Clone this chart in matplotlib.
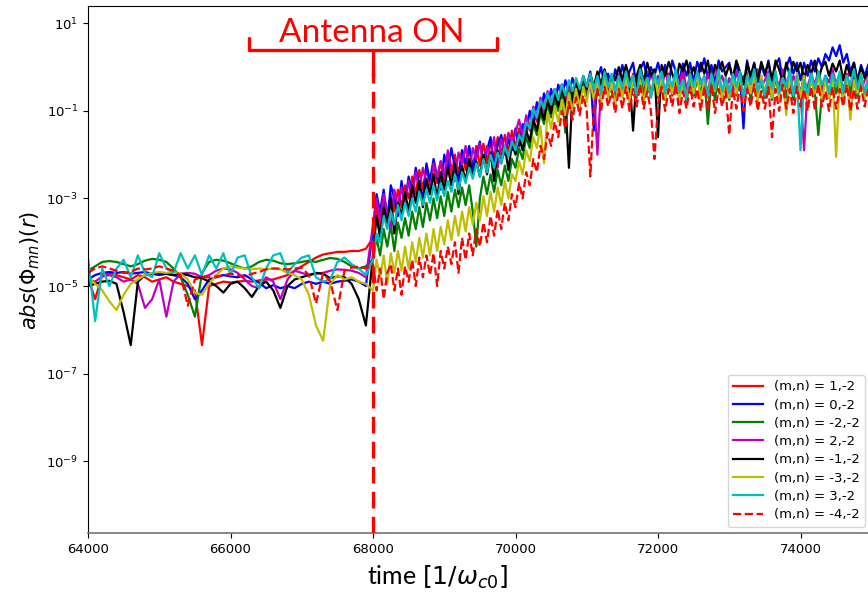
import numpy as np
import matplotlib
matplotlib.use('Agg')
import matplotlib.pyplot as plt
from matplotlib.lines import Line2D
from matplotlib.ticker import FixedLocator, NullLocator

# time grids (before antenna: step 100, after antenna: step 50)
time_pre = np.arange(64000, 68000, 100)
time_post = np.arange(68000, 75000, 50)

labels = ['(m,n) = 1,-2', '(m,n) = 0,-2', '(m,n) = -2,-2', '(m,n) = 2,-2',
          '(m,n) = -1,-2', '(m,n) = -3,-2', '(m,n) = 3,-2', '(m,n) = -4,-2']

# log10 |Phi_mn|
m1_pre = [-4.8, -5.3, -4.75, -4.7, -4.75, -4.8, -4.85, -4.75, -4.8, -4.9,
          -4.85, -4.8, -4.9, -4.95, -5.0, -5.1, -6.35, -5.0, -4.95, -4.9,
          -4.92, -4.9, -4.88, -4.9, -4.87, -4.85, -4.85, -4.8, -4.75, -4.65,
          -4.55, -4.45, -4.35, -4.28, -4.25, -4.22, -4.22, -4.2, -4.2, -4.15]
m1_post = [-3.9, -3.2, -3.7, -3.0, -3.5, -2.9, -3.3, -2.8, -3.2, -2.7,
           -3.0, -2.5, -2.9, -2.35, -2.8, -2.3, -2.7, -2.2, -2.65, -2.15,
           -2.6, -2.05, -2.5, -2.0, -2.45, -1.9, -2.35, -1.85, -2.3, -1.8,
           -2.25, -1.75, -2.2, -1.7, -2.1, -1.6, -2.0, -1.55, -1.95, -1.45,
           -1.85, -1.4, -1.7, -1.15, -1.45, -0.95, -1.25, -0.75, -1.1, -0.6,
           -1.0, -0.5, -0.9, -0.4, -0.8, -0.35, -0.75, -0.3, -0.7, -0.25,
           -0.65, -0.2, -0.7, -0.25, -0.6, -0.15, -0.65, -0.2, -0.7, -0.3,
           -0.6, -0.2, -0.65, -0.15, -0.7, -0.25, -0.6, -0.1, -0.65, -0.25,
           -0.7, -0.2, -0.6, -0.15, -0.65, -0.25, -0.7, -0.2, -0.6, -0.15,
           -0.65, -0.2, -0.7, -0.25, -0.6, -0.1, -0.65, -0.2, -0.75, -0.25,
           -0.6, -0.15, -0.65, -0.2, -0.7, -0.25, -0.6, -0.15, -0.65, -0.2,
           -0.7, -0.25, -0.6, -0.2, -0.65, -0.15, -0.7, -0.25, -0.6, -0.2,
           -0.65, -0.2, -0.7, -0.25, -0.6, -0.15, -0.65, -0.2, -0.7, -0.25,
           -0.6, -0.2, -0.65, -0.15, -0.7, -0.25, -0.6, -0.2, -0.65, -0.2]

m0_pre = [-4.85, -4.75, -4.7, -4.68, -4.7, -4.68, -4.72, -4.7, -4.68, -4.72,
          -4.75, -4.72, -4.75, -4.8, -4.95, -5.3, -5.1, -4.85, -4.8, -4.75,
          -4.78, -4.8, -4.75, -4.85, -4.92, -5.05, -4.98, -5.05, -5.0, -5.05,
          -4.95, -4.9, -4.95, -4.9, -4.95, -4.9, -4.88, -4.85, -4.9, -5.0]
m0_post = [-3.7, -2.9, -3.3, -2.8, -3.5, -2.7, -3.0, -3.4, -2.6, -3.1,
           -2.5, -2.9, -2.3, -2.7, -3.0, -2.2, -2.6, -2.1, -2.5, -2.8,
           -2.0, -2.4, -1.85, -2.3, -2.6, -1.9, -2.2, -1.8, -2.35, -2.0,
           -1.7, -2.2, -1.9, -1.6, -2.3, -1.75, -1.55, -2.0, -1.65, -1.9,
           -1.4, -1.8, -1.3, -1.5, -1.0, -1.3, -0.8, -1.1, -0.6, -0.9,
           -0.5, -0.85, -0.4, -0.7, -0.3, -0.6, -0.25, -0.55, -0.9, -0.2,
           -0.45, -0.1, -1.45, -0.3, 0.0, -0.4, -0.15, -0.5, -0.05, -0.3,
           0.05, -0.35, -0.1, 0.1, -0.45, -0.05, 0.12, -0.3, 0.0, -0.2,
           0.1, -0.25, 0.05, -0.4, 0.15, -0.1, -0.3, 0.08, -0.2, 0.1,
           -0.35, 0.12, -0.1, 0.2, -0.25, 0.05, -0.4, 0.15, -0.1, 0.0,
           0.1, -0.3, 0.05, -0.2, -1.4, 0.15, -0.25, 0.1, -0.35, 0.05,
           -0.2, 0.15, -0.35, 0.05, 0.2, -0.3, 0.0, 0.22, -0.15, 0.1,
           -0.3, 0.1, -0.2, 0.15, -0.1, 0.2, 0.0, 0.3, 0.15, 0.45,
           0.25, 0.5, 0.1, 0.3, -0.1, 0.1, -0.3, 0.05, -0.2, 0.05]

mm2_pre = [-4.65, -4.55, -4.45, -4.43, -4.45, -4.5, -4.55, -4.5, -4.42, -4.38,
           -4.4, -4.45, -4.6, -4.8, -5.2, -5.7, -4.7, -4.45, -4.4, -4.42,
           -4.48, -4.55, -4.6, -4.55, -4.45, -4.4, -4.42, -4.48, -4.5, -4.48,
           -4.45, -4.42, -4.45, -4.4, -4.36, -4.38, -4.45, -4.55, -4.6, -4.55]
mm2_post = [-4.4, -3.9, -4.3, -3.7, -4.1, -3.6, -4.2, -3.55, -3.9, -3.45,
            -3.85, -3.3, -3.7, -3.2, -3.65, -3.1, -3.5, -3.0, -3.45, -2.95,
            -3.4, -2.85, -3.3, -2.8, -3.2, -2.75, -3.15, -2.7, -3.3, -4.1,
            -3.0, -2.5, -2.9, -2.45, -2.85, -2.35, -2.7, -2.25, -2.6, -2.1,
            -2.3, -1.85, -2.1, -1.6, -1.85, -1.3, -1.55, -1.05, -1.3, -0.85,
            -1.15, -0.7, -1.0, -0.6, -1.5, -0.5, -0.8, -0.45, -0.75, -0.35,
            -0.7, -0.3, -0.65, -0.25, -0.75, -0.2, -0.6, -0.3, -0.8, -0.35,
            -0.65, -0.2, -0.7, -0.3, -0.6, -0.15, -0.75, -0.25, -0.65, -0.4,
            -0.6, -0.2, -0.75, -0.3, -0.55, -0.15, -0.7, -0.3, -0.8, -0.25,
            -0.65, -0.25, -0.6, -0.2, -1.3, -0.3, -0.75, -0.2, -0.6, -0.3,
            -0.75, -0.2, -0.6, -0.3, -0.7, -0.15, -0.75, -0.25, -0.6, -0.35,
            -0.7, -0.2, -0.75, -0.25, -0.6, -0.2, -0.7, -0.3, -0.75, -0.25,
            -0.6, -0.2, -0.7, -0.3, -0.55, -1.55, -0.65, -0.2, -0.7, -0.25,
            -0.6, -0.2, -0.75, -0.3, -0.55, -0.2, -0.7, -0.25, -0.6, -0.35]

m2_pre = [-4.85, -4.9, -4.78, -4.75, -4.8, -4.9, -4.85, -4.95, -5.5, -5.3,
          -4.85, -5.7, -4.9, -4.72, -4.7, -4.72, -4.8, -4.75, -4.65, -4.6,
          -4.62, -4.7, -4.85, -5.0, -5.05, -4.8, -4.9, -5.3, -4.85, -4.65,
          -4.7, -4.75, -4.72, -4.7, -4.65, -4.62, -4.63, -4.65, -4.7, -4.8]
m2_post = [-3.6, -3.0, -3.5, -2.9, -3.3, -3.7, -2.8, -3.2, -2.75, -3.1,
           -2.6, -3.0, -2.4, -2.8, -2.3, -2.65, -2.9, -2.2, -2.5, -2.15,
           -2.5, -1.9, -2.3, -2.6, -1.95, -2.2, -1.8, -2.4, -1.85, -2.1,
           -1.75, -2.2, -1.8, -2.05, -1.6, -2.3, -1.65, -1.9, -1.5, -1.75,
           -1.5, -1.2, -1.6, -1.1, -1.4, -0.9, -1.15, -0.7, -0.95, -0.55,
           -0.85, -0.5, -0.8, -0.4, -0.7, -0.35, -0.6, -0.3, -0.65, -0.25,
           -0.55, -0.2, -0.5, -2.0, -0.45, -0.15, -0.5, -0.25, -0.6, -0.15,
           -0.4, -0.05, -0.45, -0.2, -0.6, -0.1, -0.35, -0.5, -0.15, -0.4,
           -0.2, -0.5, -0.1, -0.35, -0.6, -0.15, -0.4, -0.05, -0.5, -0.25,
           -0.45, -0.1, -0.3, -0.55, -0.15, -0.4, 0.05, -0.35, -0.2, -0.5,
           -0.25, -0.55, -0.1, -0.4, -0.2, -0.6, -0.15, -0.35, -0.05, -0.45,
           -0.3, -0.1, -0.5, -0.2, -0.45, -0.05, -0.35, -0.6, -0.2, -0.4,
           -0.55, -1.9, -0.45, -0.15, -0.4, -0.1, -0.5, -0.2, -0.35, -0.05,
           -0.4, -0.15, -0.5, -0.25, -0.1, -0.45, -0.2, -0.55, -0.3, -0.15]

mm1_pre = [-5.0, -4.95, -4.9, -4.88, -4.95, -5.6, -6.35, -4.9, -4.75, -4.72,
           -4.7, -4.72, -4.75, -4.72, -4.75, -4.8, -4.82, -4.9, -5.0, -5.15,
           -4.95, -4.9, -5.05, -5.25, -5.0, -4.9, -5.1, -5.5, -5.0, -4.85,
           -4.8, -4.75, -4.7, -4.72, -4.82, -4.78, -4.8, -4.95, -5.3, -5.9]
mm1_post = [-4.3, -3.4, -3.9, -3.2, -3.6, -3.0, -3.8, -3.1, -3.4, -2.85,
            -3.3, -2.7, -3.1, -2.6, -3.2, -2.55, -2.9, -2.45, -3.0, -2.4,
            -2.8, -2.3, -2.7, -2.2, -2.9, -2.25, -2.6, -2.1, -2.5, -2.15,
            -2.5, -2.0, -2.45, -1.95, -2.6, -1.9, -2.2, -1.8, -2.35, -1.75,
            -2.0, -1.6, -1.9, -1.45, -1.7, -1.2, -1.45, -0.95, -1.2, -0.75,
            -1.05, -0.6, -0.9, -0.5, -0.8, -2.3, -0.55, -0.35, -0.7, -0.25,
            -0.5, -0.15, -0.45, -0.1, -0.4, -0.05, -0.35, -0.2, -0.3, 0.0,
            -0.3, 0.05, -0.25, -1.45, -0.2, 0.05, -0.35, 0.1, -0.2, -0.05,
            -1.6, 0.05, -0.2, 0.12, -0.15, -0.4, 0.08, -0.1, 0.15, -0.25,
            0.0, -0.3, 0.1, -0.15, 0.15, -0.35, 0.05, -0.1, 0.12, -0.2,
            0.05, -0.25, 0.15, -0.1, -0.4, 0.1, -0.2, 0.08, -0.3, 0.12,
            -0.15, 0.1, -0.3, 0.15, -0.05, -0.35, 0.1, -0.2, 0.12, -0.1,
            0.1, -0.25, 0.05, -0.15, 0.15, -0.3, 0.0, 0.12, -0.2, 0.08,
            -0.1, 0.15, -0.3, 0.05, -0.2, 0.1, -0.35, 0.0, -0.25, -0.1]

mm3_pre = [-4.8, -4.95, -5.1, -5.35, -5.55, -5.2, -4.95, -4.85, -4.75, -4.7,
           -4.68, -4.7, -4.68, -4.72, -4.85, -5.15, -5.2, -4.95, -4.75, -4.6,
           -4.55, -4.58, -4.6, -4.62, -4.6, -4.62, -4.6, -4.62, -4.7, -4.75,
           -4.85, -5.2, -5.9, -6.25, -4.95, -4.75, -4.85, -4.8, -4.9, -4.95]
mm3_post = [-5.1, -4.4, -4.8, -4.3, -4.95, -4.25, -4.7, -4.2, -4.65, -4.1,
            -4.6, -4.0, -4.45, -3.9, -4.35, -3.8, -4.3, -3.7, -4.2, -3.65,
            -4.05, -3.5, -3.95, -3.4, -3.85, -3.3, -3.75, -3.2, -3.6, -3.1,
            -3.5, -2.95, -3.4, -2.85, -3.3, -2.75, -3.15, -2.6, -3.0, -2.45,
            -2.6, -2.15, -2.45, -1.9, -2.15, -1.6, -1.85, -1.35, -2.2, -1.05,
            -1.4, -0.9, -1.25, -0.75, -1.1, -0.6, -1.0, -0.5, -0.9, -0.45,
            -0.8, -0.35, -0.75, -0.3, -0.85, -0.25, -0.7, -0.35, -0.9, -0.3,
            -0.7, -0.25, -0.8, -0.2, -0.65, -0.3, -0.85, -0.25, -0.7, -0.2,
            -0.65, -0.25, -0.75, -0.2, -0.6, -0.15, -0.8, -0.3, -0.7, -0.2,
            -0.6, -0.15, -0.75, -0.25, -0.7, -0.2, -0.55, -0.1, -0.75, -0.25,
            -0.7, -0.2, -0.6, -0.15, -0.75, -0.25, -0.6, -0.2, -0.8, -0.2,
            -0.6, -0.2, -0.7, -0.1, -0.75, -0.25, -1.1, -0.2, -0.6, -0.15,
            -0.7, -0.2, -0.75, -0.25, -0.6, -0.15, -0.75, -0.3, -0.7, -0.2,
            -2.05, -0.25, -0.7, -0.2, -1.2, -0.3, -0.6, -0.15, -0.75, -0.25]

m3_pre = [-4.35, -5.8, -4.6, -5.0, -4.6, -4.4, -4.8, -4.3, -4.7, -4.8,
          -4.25, -4.6, -4.7, -4.25, -4.6, -4.3, -4.75, -4.3, -4.6, -4.25,
          -4.75, -4.35, -4.3, -4.8, -5.05, -4.6, -4.3, -4.25, -4.7, -4.5,
          -4.35, -4.3, -4.8, -4.9, -4.85, -4.45, -4.35, -4.5, -4.6, -4.75]
m3_post = [-4.4, -3.8, -4.0, -3.4, -3.7, -3.3, -3.6, -3.15, -3.5, -3.1,
           -3.4, -3.0, -3.3, -2.85, -3.15, -2.8, -3.1, -2.7, -3.05, -2.65,
           -2.95, -2.6, -2.85, -2.45, -2.8, -2.4, -2.65, -2.3, -2.55, -2.2,
           -2.5, -2.1, -2.4, -2.0, -2.3, -1.95, -2.2, -1.8, -2.05, -1.7,
           -1.9, -1.55, -1.7, -1.25, -1.4, -0.95, -1.15, -0.75, -0.95, -0.6,
           -0.85, -0.5, -0.75, -0.4, -0.65, -0.3, -0.55, -0.25, -0.5, -0.2,
           -0.45, -0.15, -0.5, -0.2, -0.6, -0.1, -0.45, -0.15, -0.55, -0.2,
           -0.5, -0.1, -0.45, -0.2, -0.65, -0.05, -0.4, -0.25, -0.7, -0.15,
           -0.4, -0.1, -0.6, -0.2, -0.45, -0.05, -0.55, -0.3, -0.75, -0.15,
           -0.45, -0.1, -0.4, -0.2, -0.7, -0.15, -0.5, -0.05, -0.55, -0.25,
           -0.6, -0.15, -0.45, -0.1, -0.7, -0.2, -0.4, -0.05, -0.55, -0.3,
           -0.65, -0.15, -0.5, -0.1, -0.6, -0.25, -0.45, -0.05, -0.65, -0.2,
           -1.9, -0.3, -0.6, -0.15, -0.5, -0.1, -0.4, -0.2, -0.6, -0.15,
           -0.45, -0.1, -0.6, -0.2, -0.4, -0.05, -0.5, -0.15, -0.6, -0.3]

mm4_pre = [-4.7, -4.6, -4.55, -4.6, -4.65, -4.7, -4.68, -4.6, -4.62, -4.6,
           -4.55, -4.6, -4.65, -4.75, -5.45, -4.85, -4.8, -4.8, -4.78, -4.75,
           -4.72, -4.75, -4.78, -4.72, -4.68, -4.62, -4.6, -4.6, -4.62, -4.6,
           -4.58, -4.75, -5.4, -4.7, -4.9, -5.55, -4.65, -4.58, -4.56, -4.6]
mm4_post = [-4.5, -5.1, -4.6, -5.3, -4.7, -4.5, -5.1, -4.6, -5.2, -4.55,
            -4.9, -4.4, -5.0, -4.35, -4.8, -4.3, -4.75, -4.25, -5.0, -4.2,
            -4.6, -4.1, -4.5, -4.0, -4.7, -3.9, -4.4, -3.8, -4.3, -3.7,
            -4.1, -3.55, -4.0, -3.4, -3.85, -3.25, -3.7, -3.1, -3.5, -2.9,
            -3.2, -2.65, -3.0, -2.4, -2.7, -2.1, -2.4, -1.8, -2.1, -1.5,
            -1.8, -1.25, -1.6, -1.0, -1.4, -0.8, -1.2, -0.7, -1.1, -0.65,
            -1.0, -2.5, -0.9, -0.5, -1.0, -0.45, -0.9, -0.55, -1.05, -0.5,
            -0.95, -0.45, -1.0, -0.5, -0.9, -0.4, -0.95, -0.55, -1.0, -2.1,
            -0.85, -0.45, -1.0, -0.5, -0.9, -0.4, -1.05, -0.55, -0.95, -0.45,
            -0.9, -0.5, -1.0, -0.45, -0.95, -0.4, -1.05, -0.5, -0.9, -0.55,
            -1.55, -0.5, -0.95, -0.45, -1.0, -0.5, -0.9, -0.4, -1.0, -0.55,
            -0.95, -0.45, -1.6, -0.5, -1.0, -0.4, -0.95, -0.5, -1.05, -0.45,
            -0.9, -0.5, -1.0, -0.45, -0.95, -0.4, -0.9, -0.55, -1.0, -0.45,
            -0.95, -0.5, -0.9, -0.4, -1.0, -0.5, -0.95, -0.45, -0.9, -0.5]

series = [(m1_pre, m1_post, 'r', '-'),
          (m0_pre, m0_post, 'b', '-'),
          (mm2_pre, mm2_post, 'g', '-'),
          (m2_pre, m2_post, 'm', '-'),
          (mm1_pre, mm1_post, 'k', '-'),
          (mm3_pre, mm3_post, 'y', '-'),
          (m3_pre, m3_post, 'c', '-'),
          (mm4_pre, mm4_post, 'r', '--')]

W, H = 868, 595
fig = plt.figure(figsize=(W / 100, H / 100), dpi=100)
ax = fig.add_axes([88 / W, 1 - 533 / H, 855 / W, 527 / H])

t_all = np.concatenate([time_pre, time_post])
for (pre, post, col, ls), lab in zip(series, labels):
    vals = 10.0 ** np.array(pre + post)
    ax.plot(t_all, vals, color=col, ls=ls, lw=1.6, label=lab)

ax.set_yscale('log')
ax.set_xlim(64000, 76000)
ax.set_ylim(10 ** -10.64, 10 ** 1.395)
ax.yaxis.set_major_locator(FixedLocator([1e-9, 1e-7, 1e-5, 1e-3, 1e-1, 1e1]))
ax.yaxis.set_minor_locator(NullLocator())
ax.set_xticks([64000, 66000, 68000, 70000, 72000, 74000])
ax.tick_params(labelsize=9.5)
ax.spines['bottom'].set_color('0.45')
ax.spines['bottom'].set_linewidth(1.2)

# antenna switch-on marker
ax.axvline(68000, ymin=0, ymax=(533 - 72) / 527, color='red', ls=(0, (5, 2.5)),
           lw=2.4, zorder=10)
bracket = dict(color='red', lw=2.4, solid_capstyle='round', solid_joinstyle='round')
fig.add_artist(Line2D([249 / W, 249 / W, 497 / W, 497 / W],
                      [1 - 38 / H, 1 - 50 / H, 1 - 50 / H, 1 - 38 / H], **bracket))
fig.add_artist(Line2D([373 / W, 373 / W], [1 - 50 / H, 1 - 76 / H], **bracket))
fig.text(372 / W, 1 - 42 / H, 'Antenna ON', color='red', fontsize=24,
         family='Lato', ha='center', va='baseline')

fig.text(30 / W, 1 - 270 / H, r'$abs(\Phi_{mn})(r)$', fontsize=15,
         rotation=90, ha='center', va='center')
fig.text(438 / W, 1 - 577 / H, r'time $[1/\omega_{c0}]$', fontsize=18,
         family='Lato', ha='center', va='center')

ax.legend(loc='upper right', bbox_to_anchor=(865 / W, 1 - 375 / H),
          bbox_transform=fig.transFigure, borderaxespad=0, fontsize=9.5,
          handlelength=2.3, labelspacing=0.4)

fig.savefig('out.png', dpi=100)
